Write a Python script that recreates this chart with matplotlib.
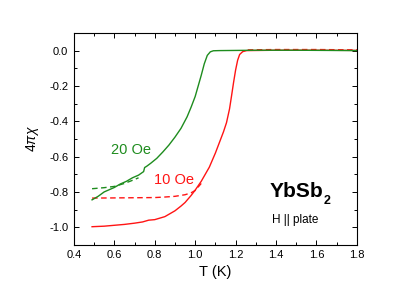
import matplotlib
matplotlib.use("Agg")
import matplotlib.pyplot as plt
from matplotlib.ticker import MultipleLocator

plt.rcParams['font.family'] = ['Liberation Sans', 'DejaVu Sans']
plt.rcParams['axes.unicode_minus'] = False
plt.rcParams['mathtext.fontset'] = 'custom'
plt.rcParams['mathtext.rm'] = 'Liberation Sans'
plt.rcParams['mathtext.it'] = 'Liberation Sans:italic'
plt.rcParams['mathtext.bf'] = 'Liberation Sans:bold'

# 20 Oe, zero-field cooled (solid)
t_zfc20 = [0.49, 0.52, 0.55, 0.60, 0.63, 0.66, 0.69, 0.72, 0.745, 0.75, 0.76, 0.78, 0.81, 0.84, 0.87,
           0.90, 0.93, 0.96, 0.98, 1.00, 1.015, 1.03, 1.045, 1.06, 1.075, 1.09, 1.12, 1.3, 1.5, 1.8]
chi_zfc20 = [-0.845, -0.825, -0.80, -0.775, -0.755, -0.74, -0.72, -0.705, -0.685, -0.662, -0.655,
             -0.638, -0.61, -0.574, -0.535, -0.49, -0.44, -0.375, -0.32, -0.26, -0.20, -0.14,
             -0.075, -0.027, -0.007, -0.001, 0.0, 0.002, 0.002, 0.0]
# 20 Oe, field cooled (dashed)
t_fc20 = [0.49, 0.55, 0.60, 0.65, 0.70, 0.72]
chi_fc20 = [-0.782, -0.776, -0.769, -0.752, -0.73, -0.72]

# 10 Oe, zero-field cooled (solid)
t_zfc10 = [0.49, 0.55, 0.60, 0.65, 0.70, 0.74, 0.77, 0.80, 0.85, 0.90, 0.93, 0.95, 0.98, 1.00,
           1.03, 1.07, 1.10, 1.12, 1.14, 1.155, 1.17, 1.18, 1.19, 1.20, 1.21, 1.22, 1.235, 1.255,
           1.4, 1.6, 1.8]
chi_zfc10 = [-0.997, -0.994, -0.989, -0.984, -0.977, -0.97, -0.96, -0.957, -0.94, -0.907, -0.88,
             -0.86, -0.82, -0.79, -0.74, -0.66, -0.58, -0.52, -0.46, -0.408, -0.33, -0.256,
             -0.18, -0.11, -0.055, -0.022, -0.006, 0.0, 0.002, 0.002, 0.001]
# 10 Oe, field cooled (dashed)
t_fc10 = [0.49, 0.60, 0.70, 0.80, 0.85, 0.90, 0.95, 0.98, 1.00, 1.03]
chi_fc10 = [-0.835, -0.834, -0.833, -0.832, -0.829, -0.825, -0.816, -0.805, -0.792, -0.752]
t_fc10_hi = [1.26, 1.4, 1.6, 1.8]
chi_fc10_hi = [0.004, 0.006, 0.006, 0.004]

green = '#1e8c1e'
red = '#ff1414'

fig = plt.figure(figsize=(4.15, 2.94), dpi=100)
ax = fig.add_axes([0.178, 0.167, 0.682, 0.721])

dash = (0, (4, 2.5))
ax.plot(t_fc10, chi_fc10, color=red, lw=1.0, ls=dash)
ax.plot(t_fc10_hi, chi_fc10_hi, color=red, lw=1.0, ls=dash)
ax.plot(t_zfc10, chi_zfc10, color=red, lw=1.0)
ax.plot(t_fc20, chi_fc20, color=green, lw=1.0, ls=dash)
ax.plot(t_zfc20, chi_zfc20, color=green, lw=1.0)

ax.set_xlim(0.4, 1.8)
ax.set_ylim(-1.1, 0.1)
ax.xaxis.set_major_locator(MultipleLocator(0.2))
ax.xaxis.set_minor_locator(MultipleLocator(0.1))
ax.yaxis.set_major_locator(MultipleLocator(0.2))
ax.yaxis.set_minor_locator(MultipleLocator(0.1))
ax.tick_params(which='both', direction='in', top=True, right=True, labelsize=8, width=0.7, pad=4)
ax.tick_params(which='major', length=3.5)
ax.tick_params(which='minor', length=2)
for s in ax.spines.values():
    s.set_linewidth(0.8)

ax.set_xlabel('T (K)', fontsize=10.5, labelpad=3)
ax.set_ylabel(r'$4\pi\chi$', fontsize=10, labelpad=6)

ax.text(0.586, -0.584, '20 Oe', color=green, fontsize=10.5, va='baseline')
ax.text(0.796, -0.755, '10 Oe', color=red, fontsize=10.5, va='baseline')
ax.text(1.37, -0.826, 'YbSb', fontsize=15, fontweight='bold', va='baseline')
ax.text(1.636, -0.868, '2', fontsize=9, fontweight='bold', va='baseline')
ax.text(1.378, -0.974, 'H || plate', fontsize=8.5, va='baseline')

fig.savefig('out.png', dpi=100)
